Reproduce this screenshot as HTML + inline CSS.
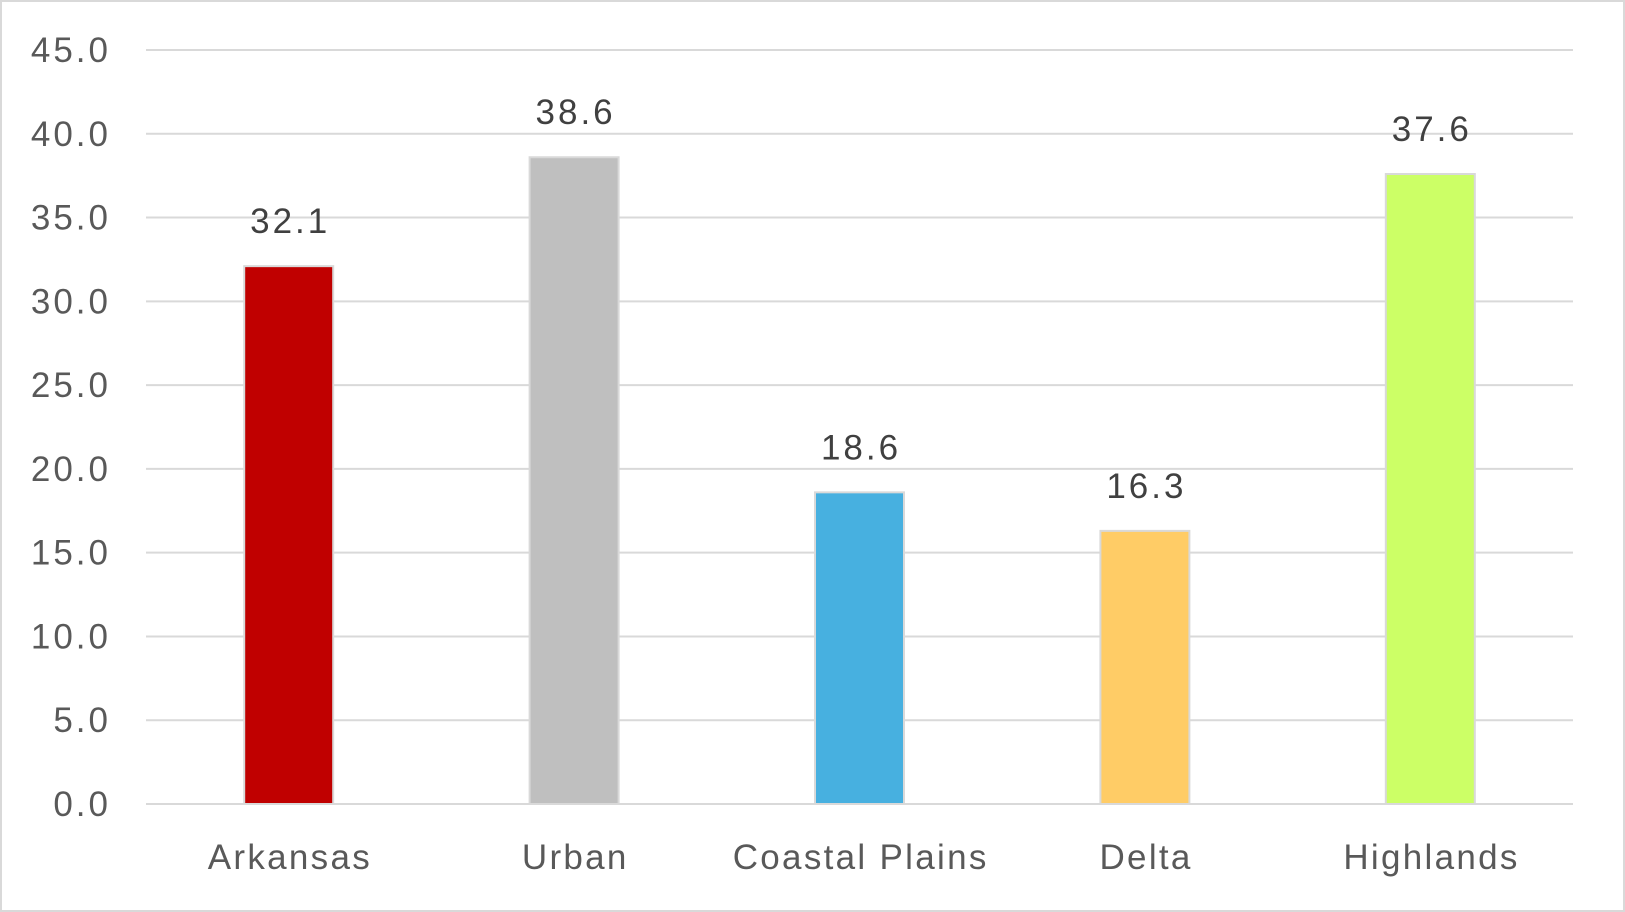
<!DOCTYPE html>
<html><head><meta charset="utf-8"><style>
body{margin:0;background:#fff}
svg{display:block;font-family:"Liberation Sans",sans-serif}
</style></head><body>
<svg id="chart" width="1625" height="912">
<rect x="1" y="1" width="1623" height="910" fill="#fff" stroke="#d9d9d9" stroke-width="2"/>
<g id="grid"></g><g id="bars"></g><g id="labels"></g>
</svg>
<script>
const categories=["Arkansas","Urban","Coastal Plains","Delta","Highlands"];
const values=[32.1,38.6,18.6,16.3,37.6];
const colors=["#c00000","#bfbfbf","#47b0e0","#ffcc66","#ccff66"];
const ticks=[0,5,10,15,20,25,30,35,40,45];
const L=146,R=1573,Y0=804,Y45=50;
const ns="http://www.w3.org/2000/svg";
const y=v=>Y0-(v/45)*(Y0-Y45);
const bw=(R-L)/categories.length;
const x=i=>L+bw*(i+0.5);
function mk(t,a,p){const e=document.createElementNS(ns,t);for(const k in a)e.setAttribute(k,a[k]);p.appendChild(e);return e;}
const g=document.getElementById('grid'),b=document.getElementById('bars'),lb=document.getElementById('labels');
ticks.forEach(t=>{
 const l=mk('line',{x1:L,x2:R,y1:y(t),y2:y(t),stroke:'#d9d9d9','stroke-width':2},g);
 
 
 const tx=mk('text',{x:111,y:y(t)+12,'text-anchor':'end','font-size':35,'letter-spacing':3,fill:'#595959'},g);
 tx.textContent=t.toFixed(1);
 
 
});
categories.forEach((c,i)=>{
 const w=89;
 const r=mk('rect',{x:x(i)-w/2,y:y(values[i]),width:w,height:Y0-y(values[i]),fill:colors[i],stroke:'#d9d9d9','stroke-width':2},b);
 
 
 const v=mk('text',{x:x(i)+1.5,y:y(values[i])-33,'text-anchor':'middle','font-size':35,'letter-spacing':3,fill:'#404040'},lb);
 v.textContent=values[i].toFixed(1);
 
 
 const t=mk('text',{x:x(i)+1.2,y:869,'text-anchor':'middle','font-size':35,'letter-spacing':2.3,fill:'#595959'},lb);
 t.textContent=c;
 
 
});
</script>
</body></html>
